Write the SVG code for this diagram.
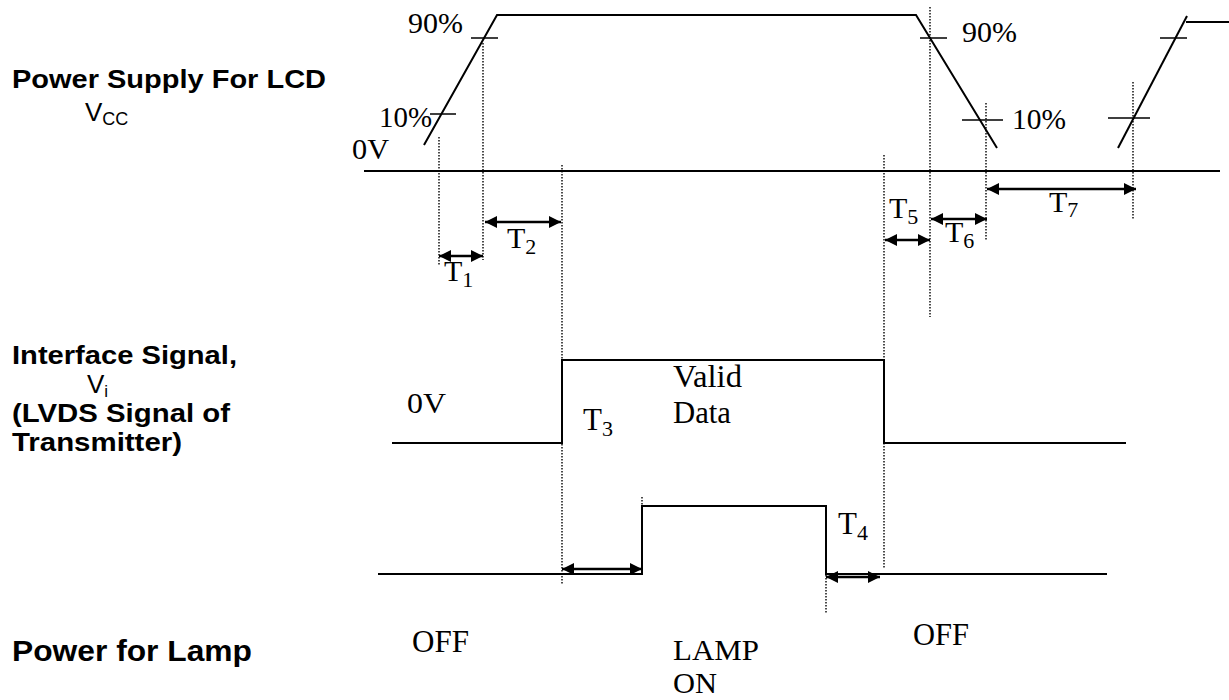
<svg xmlns="http://www.w3.org/2000/svg" width="1229" height="700" viewBox="0 0 1229 700">
<defs>
<style>
.sig{fill:none;stroke:#000;stroke-width:2}
.tick{fill:none;stroke:#000;stroke-width:1.6}
.dot{fill:none;stroke:#000;stroke-width:1.4;stroke-dasharray:1.5 1.5}
.arr{fill:none;stroke:#000;stroke-width:2.4;marker-start:url(#ah);marker-end:url(#ah)}
.lbl{font-family:"Liberation Sans",Arial,sans-serif;font-weight:bold;fill:#000}
.sub{font-family:"Liberation Sans",Arial,sans-serif;fill:#000}
.tm{font-family:"Liberation Serif","Times New Roman",serif;fill:#000}
</style>
<marker id="ah" markerUnits="userSpaceOnUse" markerWidth="13" markerHeight="12" refX="12" refY="6" orient="auto-start-reverse">
<path d="M0,0 L12,6 L0,12 z" fill="#000"/>
</marker>
</defs>
<rect width="1229" height="700" fill="#fff"/>

<g id="label-vcc">
<text class="lbl" x="12" y="88" font-size="25" textLength="314" lengthAdjust="spacingAndGlyphs">Power Supply For LCD</text>
<text class="sub" x="85" y="121" font-size="26">V<tspan font-size="18" dy="4">CC</tspan></text>
</g>
<g id="label-vi">
<text class="lbl" x="12" y="364" font-size="25" textLength="225" lengthAdjust="spacingAndGlyphs">Interface Signal,</text>
<text class="sub" x="87" y="393" font-size="26">V<tspan font-size="17" dy="4">i</tspan></text>
<text class="lbl" x="12" y="422" font-size="25" textLength="218" lengthAdjust="spacingAndGlyphs">(LVDS Signal of</text>
<text class="lbl" x="12" y="451" font-size="25" textLength="170" lengthAdjust="spacingAndGlyphs">Transmitter)</text>
</g>
<g id="label-lamp">
<text class="lbl" x="12" y="661" font-size="29" textLength="240" lengthAdjust="spacingAndGlyphs">Power for Lamp</text>
</g>

<g id="vcc-signal">
<path class="sig" d="M364,171 H1220"/>
<path class="sig" d="M424,145 L497,15 H916 L997,148"/>
<path class="sig" d="M1118,148 L1187,16"/>
<path class="sig" d="M1186,22 H1229"/>
<path class="tick" d="M471,38 H498 M430,114 H456 M920,38 H947 M962,120 H1003 M1160,38 H1187 M1108,118 H1150"/>
<text class="tm" x="408" y="33" font-size="30" textLength="55" lengthAdjust="spacingAndGlyphs">90%</text>
<text class="tm" x="379" y="127" font-size="30" textLength="53" lengthAdjust="spacingAndGlyphs">10%</text>
<text class="tm" x="352" y="159" font-size="30" textLength="37" lengthAdjust="spacingAndGlyphs">0V</text>
<text class="tm" x="962" y="42" font-size="30" textLength="55" lengthAdjust="spacingAndGlyphs">90%</text>
<text class="tm" x="1012" y="129" font-size="30" textLength="54" lengthAdjust="spacingAndGlyphs">10%</text>
</g>

<g id="vi-signal">
<path class="sig" d="M392,443 H562 V360 H884 V443 H1126"/>
<text class="tm" x="407" y="413" font-size="30" textLength="39" lengthAdjust="spacingAndGlyphs">0V</text>
<text class="tm" x="673" y="387" font-size="31" textLength="69" lengthAdjust="spacingAndGlyphs">Valid</text>
<text class="tm" x="673" y="423" font-size="31" textLength="58" lengthAdjust="spacingAndGlyphs">Data</text>
</g>

<g id="lamp-signal">
<path class="sig" d="M378,574 H642 V506 H826 V574 H1107"/>
<text class="tm" x="412" y="652" font-size="31" textLength="57" lengthAdjust="spacingAndGlyphs">OFF</text>
<text class="tm" x="673" y="660" font-size="30" textLength="86" lengthAdjust="spacingAndGlyphs">LAMP</text>
<text class="tm" x="673" y="693" font-size="30" textLength="44" lengthAdjust="spacingAndGlyphs">ON</text>
<text class="tm" x="913" y="645" font-size="31" textLength="56" lengthAdjust="spacingAndGlyphs">OFF</text>
</g>

<g id="connectors">
<path class="dot" d="M439,137 V266 M483,43 V260 M562,165 V585 M884,155 V568 M930,7 V317 M986,103 V240 M1133,82 V220 M642,497 V506 M826,575 V613"/>
<path class="arr" d="M439,256 H483"/>
<path class="arr" d="M485,222 H561"/>
<path class="arr" d="M885,240 H930"/>
<path class="arr" d="M931,219 H987"/>
<path class="arr" d="M987,189 H1136"/>
<path class="arr" d="M562,569 H642"/>
<path class="arr" d="M826,577 H880"/>
</g>

<g id="timing-labels">
<text class="tm" x="444" y="281" font-size="30">T<tspan font-size="22" dy="6">1</tspan></text>
<text class="tm" x="507" y="248" font-size="30">T<tspan font-size="22" dy="6">2</tspan></text>
<text class="tm" x="583" y="430" font-size="31">T<tspan font-size="22" dy="6">3</tspan></text>
<text class="tm" x="838" y="534" font-size="31">T<tspan font-size="22" dy="6">4</tspan></text>
<text class="tm" x="889" y="218" font-size="30">T<tspan font-size="22" dy="6">5</tspan></text>
<text class="tm" x="945" y="242" font-size="30">T<tspan font-size="22" dy="6">6</tspan></text>
<text class="tm" x="1049" y="212" font-size="30">T<tspan font-size="22" dy="5">7</tspan></text>
</g>
</svg>
